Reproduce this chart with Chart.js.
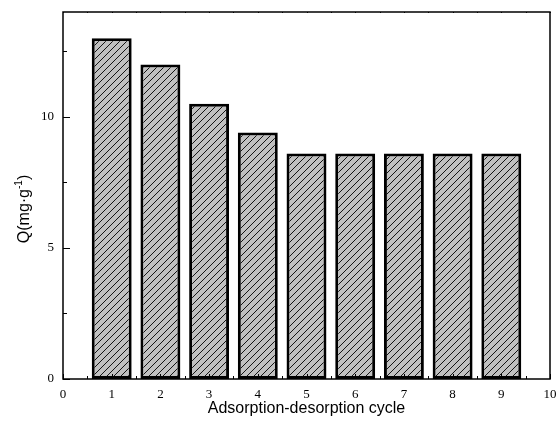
<!DOCTYPE html>
<html>
<head>
<meta charset="utf-8">
<script src="https://cdn.jsdelivr.net/npm/chart.js@4"></script>
<style>
html,body{margin:0;padding:0;background:#fff;}
canvas{display:block;}
</style>
</head>
<body>
<canvas id="c" width="558" height="425"></canvas>
<script>
const cycles = [1, 2, 3, 4, 5, 6, 7, 8, 9];
const capacity = [13, 12, 10.5, 9.4, 8.6, 8.6, 8.6, 8.6, 8.6];
const xTickValues = [0, 1, 2, 3, 4, 5, 6, 7, 8, 9, 10];
const yTickValues = [0, 5, 10];
const xTitle = 'Adsorption-desorption cycle';
const yTitleMain = 'Q(mg·g';
const yTitleSup = '-1';
const yTitleEnd = ')';

function hatch() {
  const s = 7;
  const c = document.createElement('canvas');
  c.width = s; c.height = s;
  const g = c.getContext('2d');
  g.fillStyle = '#c0c0c0';
  g.fillRect(0, 0, s, s);
  g.strokeStyle = '#000';
  g.lineWidth = 0.9;
  g.beginPath();
  g.moveTo(-1, s + 1); g.lineTo(s + 1, -1);
  g.moveTo(-1, 1); g.lineTo(1, -1);
  g.moveTo(s - 1, s + 1); g.lineTo(s + 1, s - 1);
  g.stroke();
  return g.createPattern(c, 'repeat');
}

const framePlugin = {
  id: 'frame',
  afterDatasetsDraw(chart) {
    const ctx = chart.ctx;
    const a = chart.chartArea;
    const xs = chart.scales.x, ys = chart.scales.y;
    ctx.save();
    ctx.strokeStyle = '#000';
    ctx.lineWidth = 1.5;
    ctx.strokeRect(a.left, a.top, a.right - a.left, a.bottom - a.top);
    ctx.lineWidth = 1;
    ctx.beginPath();
    for (let v = 0; v <= 10; v += 0.5) {
      const px = Math.round(xs.getPixelForValue(v)) + 0.5;
      const len = Number.isInteger(v) ? 5 : 3;
      ctx.moveTo(px, a.bottom); ctx.lineTo(px, a.bottom - len);
      ctx.moveTo(px, a.top); ctx.lineTo(px, a.top + 1);
    }
    for (let v = 0; v <= 14; v += 2.5) {
      const py = Math.round(ys.getPixelForValue(v)) + 0.5;
      const len = (v % 5 === 0) ? 7 : 4;
      ctx.moveTo(a.left, py); ctx.lineTo(a.left + len, py);
    }
    ctx.stroke();

    ctx.fillStyle = '#000';
    ctx.font = '16px "Liberation Sans", Arial, sans-serif';
    ctx.textAlign = 'center';
    ctx.textBaseline = 'middle';
    ctx.fillText(xTitle, (a.left + a.right) / 2, 409);

    ctx.translate(25, 209);
    ctx.rotate(-Math.PI / 2);
    ctx.font = '16px "Liberation Sans", Arial, sans-serif';
    const w1 = ctx.measureText(yTitleMain).width;
    ctx.font = '10px "Liberation Sans", Arial, sans-serif';
    const w2 = ctx.measureText(yTitleSup).width;
    ctx.font = '16px "Liberation Sans", Arial, sans-serif';
    const w3 = ctx.measureText(yTitleEnd).width;
    const total = w1 + w2 + w3;
    let x0 = -total / 2;
    ctx.textAlign = 'left';
    ctx.fillText(yTitleMain, x0, 0);
    ctx.font = '10px "Liberation Sans", Arial, sans-serif';
    ctx.fillText(yTitleSup, x0 + w1, -6);
    ctx.font = '16px "Liberation Sans", Arial, sans-serif';
    ctx.fillText(yTitleEnd, x0 + w1 + w2, 0);
    ctx.restore();
  }
};

function zeroPad(s) {
  s.paddingLeft = 0; s.paddingRight = 0; s.paddingTop = 0; s.paddingBottom = 0;
}

new Chart(document.getElementById('c'), {
  type: 'bar',
  data: {
    datasets: [{
      data: cycles.map((c, i) => ({ x: c, y: capacity[i] })),
      backgroundColor: hatch(),
      borderColor: '#000',
      borderWidth: 3,
      borderSkipped: false,
      barPercentage: 0.82,
      categoryPercentage: 1
    }]
  },
  plugins: [framePlugin],
  options: {
    responsive: false,
    animation: false,
    layout: { padding: { top: 12, right: 8, left: 0, bottom: 0 } },
    plugins: { legend: { display: false }, tooltip: { enabled: false } },
    scales: {
      x: {
        type: 'linear',
        min: 0, max: 10,
        offset: false,
        grid: { display: false, drawTicks: false },
        border: { display: false },
        afterFit: s => { s.height = 46; zeroPad(s); },
        afterBuildTicks: s => { s.ticks = xTickValues.map(v => ({ value: v })); },
        ticks: {
          padding: 8,
          color: '#000',
          maxRotation: 0,
          autoSkip: false,
          font: { family: '"Liberation Serif", "Times New Roman", serif', size: 13 }
        }
      },
      y: {
        min: 0, max: 14,
        grid: { display: false, drawTicks: false },
        border: { display: false },
        afterFit: s => { s.width = 63; zeroPad(s); },
        afterBuildTicks: s => { s.ticks = yTickValues.map(v => ({ value: v })); },
        ticks: {
          padding: 9,
          color: '#000',
          font: { family: '"Liberation Serif", "Times New Roman", serif', size: 13 }
        }
      }
    }
  }
});
</script>
</body>
</html>
